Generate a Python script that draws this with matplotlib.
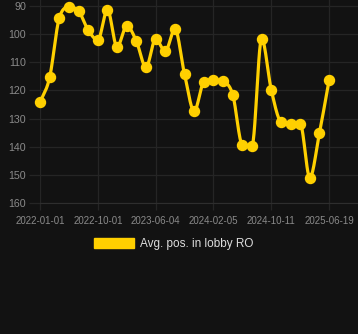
import numpy as np
import matplotlib
matplotlib.use("Agg")
import matplotlib.pyplot as plt
from matplotlib.patches import Patch

# --- Data ---
avg_pos = [124.3, 115.4, 94.3, 90.5, 91.8, 98.6, 102.1, 91.4, 104.6, 97.1,
           102.5, 111.8, 101.8, 106.1, 98.2, 114.3, 127.4, 117.1, 116.2, 116.8,
           121.5, 139.3, 139.6, 101.6, 119.8, 131.1, 131.9, 131.9, 151.0, 135.1,
           116.4]
tick_idx = [0, 6, 12, 18, 24, 30]
tick_labels = ["2022-01-01", "2022-10-01", "2023-06-04", "2024-02-05",
               "2024-10-11", "2025-06-19"]
y_ticks = [90, 100, 110, 120, 130, 140, 150, 160]
series_name = "Avg. pos. in lobby RO"

BG = "#121212"
GRID = "#252525"
LINE = "#FFD000"
TICK_TXT = "#8a8a8a"


def monotone_curve(y, n=24):
    """Fritsch-Carlson monotone cubic through equally spaced points."""
    y = np.asarray(y, dtype=float)
    x = np.arange(len(y), dtype=float)
    d = np.diff(y)
    m = np.zeros_like(y)
    m[0], m[-1] = d[0], d[-1]
    for i in range(1, len(y) - 1):
        m[i] = 0.0 if d[i - 1] * d[i] <= 0 else (d[i - 1] + d[i]) / 2
    for i in range(len(d)):
        if d[i] == 0:
            m[i] = m[i + 1] = 0.0
            continue
        a, b = m[i] / d[i], m[i + 1] / d[i]
        s = a * a + b * b
        if s > 9:
            t = 3 / np.sqrt(s)
            m[i], m[i + 1] = t * a * d[i], t * b * d[i]
    xs, ys = [], []
    t = np.linspace(0, 1, n, endpoint=False)
    h00 = 2 * t**3 - 3 * t**2 + 1
    h10 = t**3 - 2 * t**2 + t
    h01 = -2 * t**3 + 3 * t**2
    h11 = t**3 - t**2
    for i in range(len(d)):
        xs.append(x[i] + t)
        ys.append(h00 * y[i] + h10 * m[i] + h01 * y[i + 1] + h11 * m[i + 1])
    xs.append([x[-1]])
    ys.append([y[-1]])
    return np.concatenate(xs), np.concatenate(ys)


plt.rcParams["font.family"] = ["Liberation Sans", "DejaVu Sans"]

fig = plt.figure(figsize=(3.58, 3.34), dpi=100, facecolor=BG)
ax = fig.add_axes([40 / 358, 1 - 203 / 334, 1 - 40 / 358, 203 / 334])
ax.set_facecolor(BG)

cx, cy = monotone_curve(avg_pos)
ax.plot(cx, cy, color=LINE, lw=2.3, solid_capstyle="round", zorder=3,
        clip_on=False)
ax.plot(range(len(avg_pos)), avg_pos, "o", color=LINE, ms=7.2, zorder=4,
        clip_on=False)

ax.set_xlim(0, 33)
ax.set_ylim(160, 87.9)
ax.set_xticks(tick_idx)
ax.set_xticklabels(tick_labels)
ax.set_yticks(y_ticks)

ax.grid(True, color=GRID, lw=0.9)
ax.tick_params(axis="x", colors=GRID, labelcolor=TICK_TXT, labelsize=7,
               length=5, width=0.9, pad=4)
ax.tick_params(axis="y", colors=GRID, labelcolor=TICK_TXT, labelsize=7.7,
               length=8, width=0.9, pad=2)
for side in ["top", "right", "left"]:
    ax.spines[side].set_visible(False)
ax.spines["bottom"].set_color("#2e2e2e")
ax.set_axisbelow(True)

handle = Patch(facecolor=LINE, edgecolor=LINE)
fig.legend([handle], [series_name], loc="center",
           bbox_to_anchor=(174 / 358, 1 - 244 / 334), frameon=False,
           fontsize=8.5, labelcolor="#dddddd", handlelength=3.4,
           handleheight=0.95, handletextpad=0.5, borderpad=0)

fig.savefig("out.png", dpi=100, facecolor=BG)
